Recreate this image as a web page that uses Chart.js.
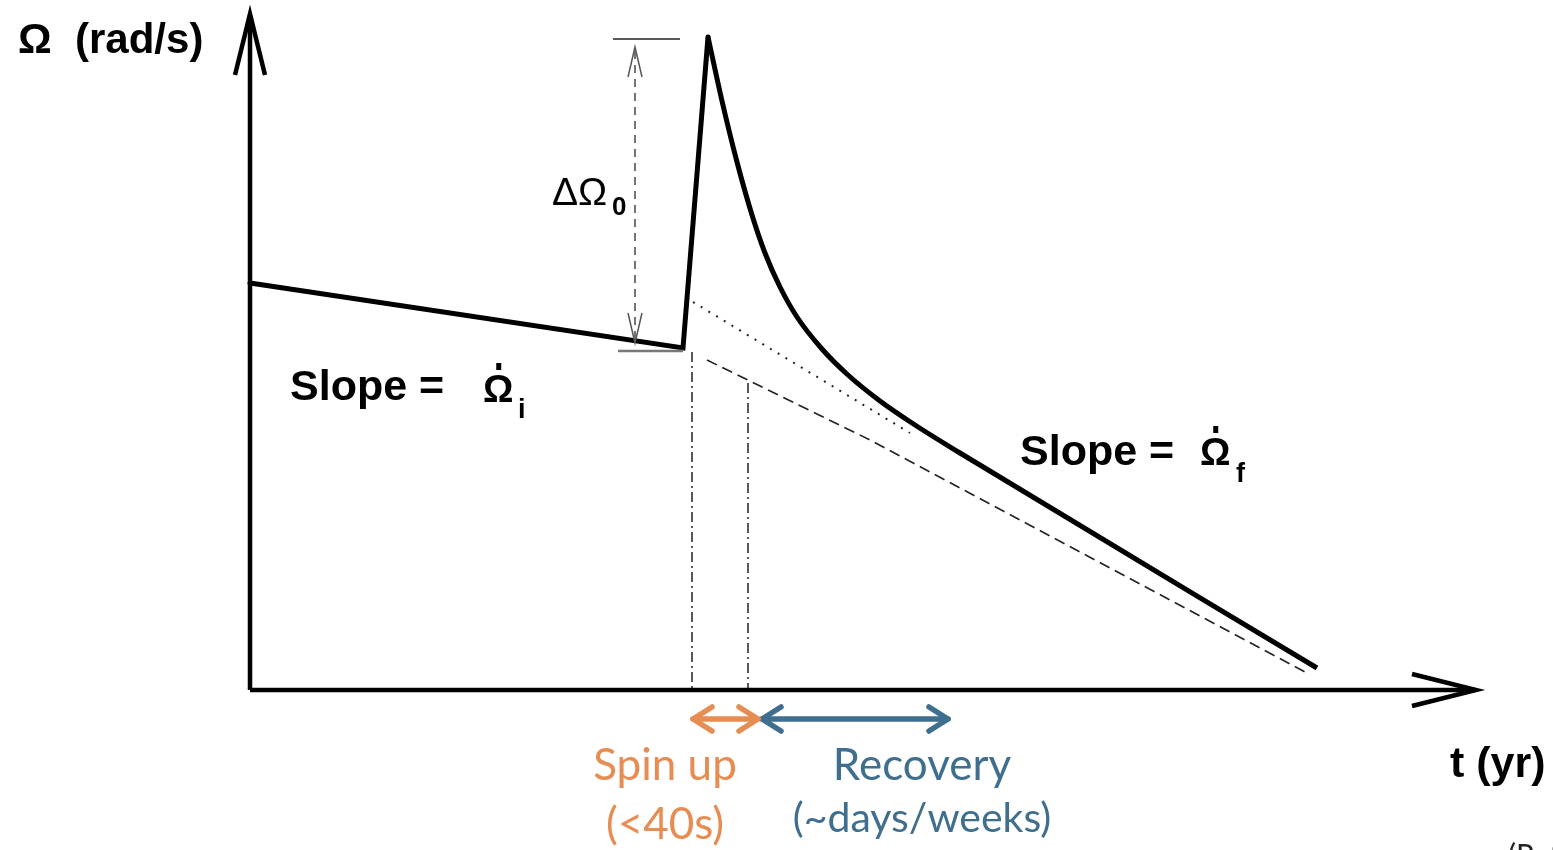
<!DOCTYPE html>
<html>
<head>
<meta charset="utf-8">
<title>Pulsar glitch</title>
<script src="https://cdn.jsdelivr.net/npm/chart.js@4.4.1/dist/chart.umd.min.js"></script>
<style>
  html, body { margin: 0; padding: 0; background: #fff; }
  canvas { display: block; }
</style>
</head>
<body>
<canvas id="chart" width="1553" height="850"></canvas>
<script>
// spin frequency vs time through a glitch (arbitrary units, origin at the axes corner)
const spinT = [0, 43.3, 45.8];
const spinOmega = [40.7, 34.2, 65.3];

const decayT = [45.8, 47.2, 48.7, 50.2, 51.5, 53.0, 54.7, 57.2, 59.8, 63.0, 66.5, 71.0, 106.7];
const decayOmega = [65.3, 58.9, 52.8, 47.5, 43.7, 40.3, 37.3, 34.1, 31.5, 28.9, 26.5, 23.7, 2.2];

// slope-f trend extended back to the glitch (dotted)
const trendFT = [44.3, 66.0];
const trendFOmega = [38.8, 25.7];

// pre-glitch spin-down carried forward (dashed)
const trendIT = [45.7, 62.0, 105.7];
const trendIOmega = [33.0, 25.0, 1.7];

// glitch epoch and end of spin up (dash-dot)
const epochT = [44.2, 49.8];
const epochOmega = [33.8, 30.7];

// delta omega marker
const jumpTop = 65.1;
const jumpBottom = 33.9;

const axisT = [0, 122.5];
const axisOmega = [0, 67.5];

const spinUpT = [44.3, 50.8];
const recoveryT = [51.2, 69.8];
const spanOmega = -2.9;

const pts = (xs, ys) => xs.map((x, i) => ({ x: x, y: ys[i] }));

function line(xs, ys, style) {
  return Object.assign({
    data: pts(xs, ys),
    pointRadius: 0,
    fill: false,
    tension: 0,
    borderColor: '#000',
    borderWidth: 2,
    borderJoinStyle: 'miter'
  }, style);
}

// open chevron arrow head: tip at (x, y), pointing along (dx, dy)
function head(x, y, dx, dy, len, half, style) {
  const xs = [x - dx * len - dy * half, x, x - dx * len + dy * half];
  const ys = [y - dy * len + dx * half, y, y - dy * len - dx * half];
  return line(xs, ys, style);
}

const orange = '#e58d52';
const blue = '#3f6e8e';
const roundArrow = { borderWidth: 5.5, borderCapStyle: 'round', borderJoinStyle: 'round' };

const datasets = [
  // axes
  line([0, 0], axisOmega, { borderWidth: 4.5 }),
  line(axisT, [0, 0], { borderWidth: 4.5 }),
  head(0, 67.6, 0, 1, 6.1, 1.5, { borderWidth: 4.5 }),
  head(122.6, 0, 1, 0, 6.4, 1.6, { borderWidth: 4.5 }),

  // reference trends
  line(trendFT, trendFOmega, { borderWidth: 2, borderColor: '#222', borderDash: [2, 7] }),
  line(trendIT, trendIOmega, { borderWidth: 1.6, borderColor: '#222', borderDash: [11, 6] }),
  line([epochT[0], epochT[0]], [epochOmega[0], 0], { borderWidth: 1.5, borderColor: '#222', borderDash: [10, 4, 2, 4] }),
  line([epochT[1], epochT[1]], [epochOmega[1], 0], { borderWidth: 1.5, borderColor: '#222', borderDash: [10, 4, 2, 4] }),

  // delta omega marker
  line([36.3, 43.0], [jumpTop, jumpTop], { borderWidth: 1.6, borderColor: '#222' }),
  line([36.8, 43.3], [jumpBottom, jumpBottom], { borderWidth: 2.4, borderColor: '#777' }),
  line([38.5, 38.5], [jumpTop - 1.2, jumpBottom + 0.9], { borderWidth: 1.8, borderColor: '#666', borderDash: [8, 6] }),
  head(38.5, jumpTop - 0.8, 0, 1, 3.0, 0.7, { borderWidth: 1.5, borderColor: '#555' }),
  head(38.5, jumpBottom + 0.8, 0, -1, 3.0, 0.7, { borderWidth: 1.5, borderColor: '#555' }),

  // spin frequency
  line(spinT, spinOmega, { borderWidth: 5, borderCapStyle: 'round' }),
  line(decayT, decayOmega, { borderWidth: 5, cubicInterpolationMode: 'monotone' }),

  // time spans below the axis
  line(spinUpT, [spanOmega, spanOmega], Object.assign({ borderColor: orange }, roundArrow)),
  head(spinUpT[0], spanOmega, -1, 0, 1.9, 1.2, Object.assign({ borderColor: orange }, roundArrow)),
  head(spinUpT[1], spanOmega, 1, 0, 1.9, 1.2, Object.assign({ borderColor: orange }, roundArrow)),
  line(recoveryT, [spanOmega, spanOmega], Object.assign({ borderColor: blue }, roundArrow)),
  head(recoveryT[0], spanOmega, -1, 0, 1.9, 1.2, Object.assign({ borderColor: blue }, roundArrow)),
  head(recoveryT[1], spanOmega, 1, 0, 1.9, 1.2, Object.assign({ borderColor: blue }, roundArrow))
];

const bold = '"Liberation Sans", Arial, sans-serif';
const soft = 'Lato, "Open Sans", sans-serif';

// text placed in data units
const labels = [
  { t: 'Ω  (rad/s)', x: -23.2, y: 63.7, font: 'bold 42px ' + bold },
  { t: 't (yr)', x: 120.0, y: -8.7, font: 'bold 43px ' + bold },
  { t: 'Slope =', x: 4.0, y: 29.0, font: 'bold 43px ' + bold },
  { t: 'Ω', x: 23.3, y: 28.8, font: 'bold 38px ' + bold, dot: 30 },
  { t: 'i', x: 26.8, y: 27.2, font: 'bold 27px ' + bold },
  { t: 'Slope =', x: 77.0, y: 22.5, font: 'bold 43px ' + bold },
  { t: 'Ω', x: 95.0, y: 22.5, font: 'bold 38px ' + bold, dot: 30 },
  { t: 'f', x: 98.6, y: 20.8, font: 'bold 27px ' + bold },
  { t: 'ΔΩ', x: 30.2, y: 48.5, font: '39px ' + bold },
  { t: '0', x: 36.2, y: 47.5, font: 'bold 26px ' + bold },
  { t: 'Spin up', x: 41.5, y: -9.0, font: '44px ' + soft, color: orange, align: 'center' },
  { t: '(<40s)', x: 41.5, y: -14.9, font: '44px ' + soft, color: orange, align: 'center' },
  { t: 'Recovery', x: 67.2, y: -9.0, font: '44px ' + soft, color: blue, align: 'center' },
  { t: '(~days/weeks)', x: 67.2, y: -14.2, font: '41px ' + soft, color: blue, align: 'center' },
  { t: '(Ref', x: 125.8, y: -17.6, font: '30px ' + soft, color: '#222' }
];

const textPlugin = {
  id: 'glitchText',
  afterDraw(chart) {
    const ctx = chart.ctx;
    const xs = chart.scales.x, ys = chart.scales.y;
    ctx.save();
    ctx.textBaseline = 'alphabetic';
    labels.forEach(l => {
      const px = xs.getPixelForValue(l.x);
      const py = ys.getPixelForValue(l.y);
      ctx.font = l.font;
      ctx.fillStyle = l.color || '#000';
      ctx.textAlign = l.align || 'left';
      ctx.fillText(l.t, px, py);
      if (l.dot) {
        // time derivative dot over omega
        const w = ctx.measureText(l.t).width;
        ctx.fillRect(px + w / 2 - 2, py - l.dot - 9, 5, 7);
      }
    });
    ctx.restore();
  }
};

const ctx = document.getElementById('chart').getContext('2d');
new Chart(ctx, {
  type: 'line',
  data: { datasets: datasets },
  options: {
    responsive: false,
    animation: false,
    devicePixelRatio: 1,
    layout: { padding: 0 },
    plugins: { legend: { display: false }, tooltip: { enabled: false } },
    scales: {
      x: { type: 'linear', min: -25, max: 130.3, display: false },
      y: { type: 'linear', min: -16, max: 69, display: false }
    }
  },
  plugins: [textPlugin]
});
</script>
</body>
</html>
